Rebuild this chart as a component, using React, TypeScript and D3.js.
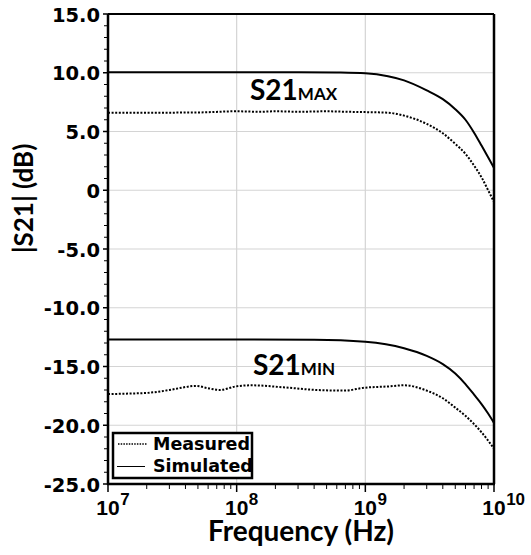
import * as d3 from 'd3';

// frequencies in Hz, magnitudes in dB
const simMaxFreq = [1e7, 1e8, 3e8, 6e8, 1e9, 1.5e9, 2e9, 3e9, 4e9, 5e9, 6e9, 7e9, 8e9, 9e9, 1e10];
const simMaxDb = [10.05, 10.05, 10.05, 10.02, 9.95, 9.7, 9.35, 8.5, 7.75, 6.9, 6.0, 4.9, 3.8, 2.8, 1.9];

const measMaxFreq = [1e7, 2e7, 5e7, 1e8, 1.5e8, 2e8, 3e8, 5e8, 7e8, 1e9, 1.5e9, 2e9, 3e9, 4e9, 5e9, 6e9, 7e9, 8e9, 9e9, 1e10];
const measMaxDb = [6.6, 6.6, 6.62, 6.72, 6.68, 6.72, 6.68, 6.72, 6.68, 6.65, 6.6, 6.35, 5.65, 4.85, 3.95, 3.1, 2.1, 1.1, 0.0, -1.0];

const simMinFreq = [1e7, 1e8, 4e8, 1e9, 2e9, 3e9, 4e9, 5e9, 6e9, 7e9, 8e9, 9e9, 1e10];
const simMinDb = [-12.7, -12.7, -12.72, -12.9, -13.45, -14.1, -14.8, -15.6, -16.5, -17.4, -18.2, -19.0, -19.8];

const measMinFreq = [1e7, 1.5e7, 2e7, 3e7, 4e7, 4.8e7, 6e7, 7.4e7, 9.8e7, 1.3e8, 2.3e8, 4.2e8, 6.8e8, 1e9, 1.5e9, 2e9, 3e9, 4e9, 5e9, 6e9, 7e9, 8e9, 9e9, 1e10];
const measMinDb = [-17.35, -17.3, -17.25, -17.0, -16.75, -16.65, -16.85, -17.0, -16.7, -16.6, -16.77, -17.0, -17.05, -16.8, -16.7, -16.6, -17.05, -17.7, -18.5, -19.2, -19.9, -20.6, -21.3, -22.0];

const yTicks = [15, 10, 5, 0, -5, -10, -15, -20, -25];
const yTickLabels = ['15.0', '10.0', '5.0', '0', '-5.0', '-10.0', '-15.0', '-20.0', '-25.0'];
const xDecades = [7, 8, 9, 10];

const W = 531;
const H = 555;
const margin = { left: 108, right: 37, top: 14, bottom: 71 };

export default function App() {
  const x = d3.scaleLog().domain([1e7, 1e10]).range([margin.left, W - margin.right]);
  const y = d3.scaleLinear().domain([-25, 15]).range([H - margin.bottom, margin.top]);

  const line = d3.line<[number, number]>()
    .x(d => x(d[0]))
    .y(d => y(d[1]))
    .curve(d3.curveMonotoneX);

  const series = [
    { f: simMaxFreq, v: simMaxDb, dash: null },
    { f: measMaxFreq, v: measMaxDb, dash: '2 1.6' },
    { f: simMinFreq, v: simMinDb, dash: null },
    { f: measMinFreq, v: measMinDb, dash: '2 1.6' },
  ];

  const minorY = d3.range(-25, 16, 1).filter(v => v % 5 !== 0);
  const minorX: number[] = [];
  for (let e = 7; e < 10; e++) {
    for (let m = 2; m <= 9; m++) minorX.push(m * Math.pow(10, e));
  }

  const x0 = x(1e7);
  const x1 = x(1e10);
  const y0 = y(-25);
  const y1 = y(15);
  const tickFont = 'DejaVu Sans, sans-serif';
  const labelFont = 'Lato, sans-serif';
  const arial = 'Liberation Sans, Arial, sans-serif';

  return (
    <svg width={W} height={H} style={{ position: 'absolute', left: 0, top: 0, background: '#fff' }}>
      {/* grid */}
      {yTicks.map(t => (
        <line key={'gy' + t} x1={x0} x2={x1} y1={y(t)} y2={y(t)} stroke="#d4d4d4" strokeWidth={1.2} />
      ))}
      {xDecades.map(d => (
        <line key={'gx' + d} x1={x(Math.pow(10, d))} x2={x(Math.pow(10, d))} y1={y1} y2={y0} stroke="#d4d4d4" strokeWidth={1.2} />
      ))}

      {/* curves */}
      {series.map((s, i) => (
        <path
          key={i}
          d={line(s.f.map((f, j) => [f, s.v[j]] as [number, number])) || ''}
          fill="none"
          stroke="#000"
          strokeWidth={2}
          strokeDasharray={s.dash || undefined}
        />
      ))}

      {/* frame */}
      <line x1={x0} x2={x1} y1={y1} y2={y1} stroke="#000" strokeWidth={2} />
      <line x1={x1} x2={x1} y1={y1} y2={y0} stroke="#000" strokeWidth={2.5} />
      <line x1={x0} x2={x0} y1={y1} y2={y0 + 1} stroke="#000" strokeWidth={2.5} />
      <line x1={x0 - 1} x2={x1 + 1} y1={y0} y2={y0} stroke="#000" strokeWidth={2.5} />

      {/* y ticks */}
      {minorY.map(v => (
        <line key={'my' + v} x1={x0 - 4} x2={x0} y1={y(v)} y2={y(v)} stroke="#000" strokeWidth={1} />
      ))}
      {yTicks.map((t, i) => (
        <g key={'ty' + t}>
          <line x1={x0 - 5} x2={x0} y1={y(t)} y2={y(t)} stroke="#000" strokeWidth={1.5} />
          <text x={100} y={y(t) + 7.5} textAnchor="end" fontFamily={tickFont} fontWeight="bold" fontSize={19.5} fill="#000">
            {yTickLabels[i]}
          </text>
        </g>
      ))}

      {/* x ticks */}
      {minorX.map(v => (
        <line key={'mx' + v} x1={x(v)} x2={x(v)} y1={y0} y2={y0 + 5} stroke="#000" strokeWidth={1} />
      ))}
      {xDecades.map(d => {
        const px = x(Math.pow(10, d));
        return (
          <g key={'tx' + d}>
            <line x1={px} x2={px} y1={y0} y2={y0 + 8} stroke="#000" strokeWidth={1.5} />
            <text x={px - 11.7} y={515} textAnchor="start" fontFamily={arial} fontWeight="bold" fontSize={21} fill="#000">
              10<tspan dx={0.5} dy={-10} fontSize={17}>{d}</tspan>
            </text>
          </g>
        );
      })}

      {/* axis titles */}
      <text x={(x0 + x1) / 2} y={541} textAnchor="middle" fontFamily={labelFont} fontWeight="bold" fontSize={28} fill="#000">
        Frequency (Hz)
      </text>
      <text
        transform={`translate(33, ${y(-0.7)}) rotate(-90)`}
        textAnchor="middle"
        fontFamily={labelFont}
        fontWeight="bold"
        fontSize={26}
        fill="#000"
      >
        |S21| (dB)
      </text>

      {/* curve annotations */}
      <text x={250} y={100} fontFamily={labelFont} fontWeight="bold" fontSize={28} fill="#000">
        S21<tspan fontSize={17}>MAX</tspan>
      </text>
      <text x={253} y={375} fontFamily={labelFont} fontWeight="bold" fontSize={28} fill="#000">
        S21<tspan fontSize={17}>MIN</tspan>
      </text>

      {/* legend */}
      <rect x={113} y={433} width={139} height={45} fill="#fff" stroke="#000" strokeWidth={2.5} />
      <line x1={118} x2={147} y1={444} y2={444} stroke="#000" strokeWidth={1.5} strokeDasharray="1.5 1.2" />
      <line x1={117} x2={145} y1={466.5} y2={466.5} stroke="#000" strokeWidth={1} />
      <text x={153} y={450} fontFamily={tickFont} fontWeight="bold" fontSize={17.5} fill="#000">Measured</text>
      <text x={153} y={472} fontFamily={tickFont} fontWeight="bold" fontSize={17.5} fill="#000">Simulated</text>
    </svg>
  );
}
